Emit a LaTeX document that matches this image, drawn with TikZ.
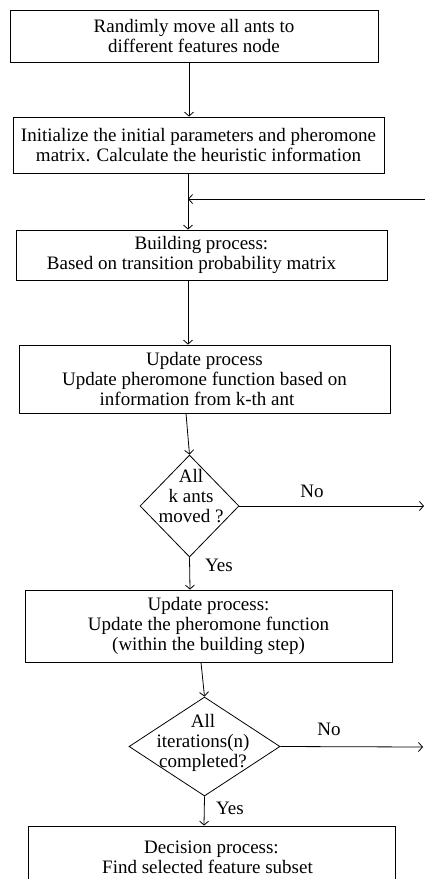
\documentclass[tikz,border=0pt]{standalone}
\usepackage{fontspec}
\setmainfont{Liberation Serif}
\usetikzlibrary{shapes.geometric,arrows.meta}
\newcommand{\fsz}{\fontsize{19}{20}\selectfont}
\tikzset{
  proc/.style={draw, line width=0.8pt, rectangle, align=center, inner sep=0pt, font=\fsz},
  decision/.style={draw, line width=0.8pt, diamond, inner sep=0pt},
  dtext/.style={align=center, font=\fsz, inner sep=0pt},
  lbl/.style={font=\fsz, inner sep=0pt},
  conn/.style={line width=0.8pt, -{Straight Barb[length=4pt,width=9pt]}},
  plainline/.style={line width=0.8pt}
}
\begin{document}
\begin{tikzpicture}[x=1pt,y=-1pt]
\useasboundingbox (0,0) rectangle (425,879);
\fill[white] (0,0) rectangle (425,879);

% boxes
\node[proc, minimum width=368pt, minimum height=52pt] (b1) at (194,36)
  {Randimly move all ants to\\different features node};
\node[proc, minimum width=371pt, minimum height=56pt] (b2) at (198.5,145)
  {Initialize the initial parameters and pheromone\\matrix. Calculate the heuristic information};
\node[proc, minimum width=371pt, minimum height=50pt] (b3) at (201.5,255)
  {Building process:\\Based on transition probability matrix\hspace*{20pt}};
\node[proc, minimum width=371pt, minimum height=68pt] (b4) at (204.5,379)
  {Update process\\Update pheromone function based on\\information from k-th ant\hspace*{15pt}};
\node[proc, minimum width=367pt, minimum height=72pt] (b5) at (208.5,626)
  {Update process:\\Update the pheromone function\\(within the building step)};
\node[proc, minimum width=367pt, minimum height=62pt] (b6) at (211.5,857)
  {Decision process:\\Find selected feature subset\hspace*{8pt}};

% decisions
\node[decision, minimum width=99pt, minimum height=102pt] (d1) at (189.5,506) {};
\node[dtext] (d1t) at (191,496) {All\\k ants\\moved ?};
\node[decision, minimum width=151pt, minimum height=99pt] (d2) at (204.5,746.5) {};
\node[dtext] (d2t) at (203,743) {All\\iterations(n)\\completed?};

% labels
\node[lbl] (yes1) at (219,565) {Yes};
\node[lbl] (no1) at (312,491) {No};
\node[lbl] (yes2) at (230,808) {Yes};
\node[lbl] (no2) at (329,729) {No};

% coordinates for free ends
\coordinate (loopin) at (430,199);
\coordinate (join1) at (188,199);
\coordinate (out1) at (424,506);
\coordinate (out2) at (423,747);

% connectors
\draw[conn] ([xshift=-5pt]b1.south) -- ([xshift=-9.5pt]b2.north);
\draw[conn] ([xshift=-10.5pt]b2.south) -- ([xshift=-13.5pt]b3.north);
\draw[conn] (loopin) -- (join1);
\draw[conn] ([xshift=-13.5pt]b3.south) -- ([xshift=-16.5pt]b4.north);
\draw[conn] ([xshift=-18.5pt]b4.south) -- (d1.north);
\draw[conn] (d1.south) -- ([xshift=-18.5pt]b5.north);
\draw[conn] (d1.east) -- (out1);
\draw[conn] ([xshift=-7.5pt]b5.south) -- (d2.north);
\draw[conn] (d2.south) -- ([xshift=-7.5pt]b6.north);
\draw[conn] (d2.east) -- (out2);
\end{tikzpicture}
\end{document}
